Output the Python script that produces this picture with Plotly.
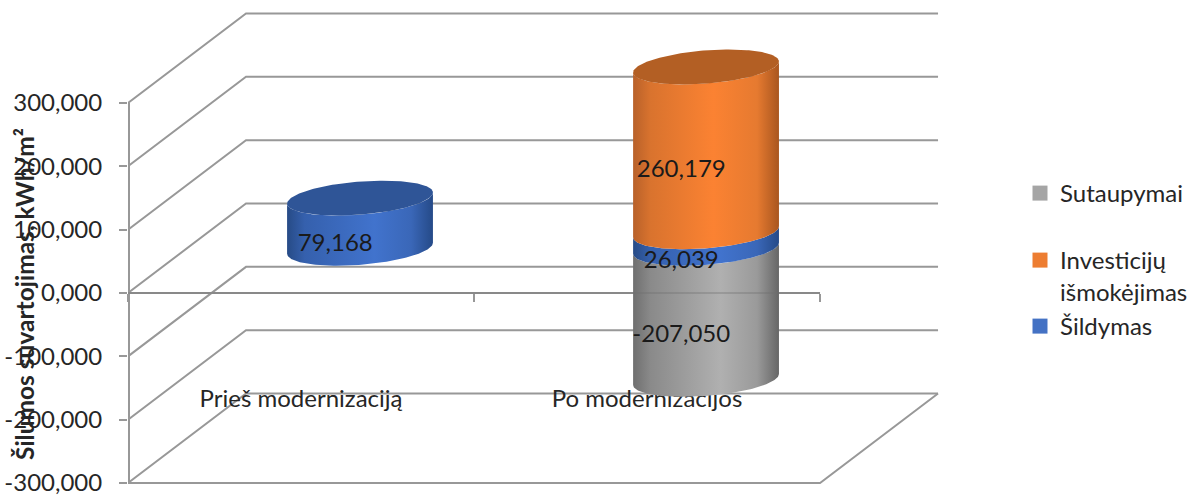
import numpy as np
import plotly.graph_objects as go

categories = ["Prieš modernizaciją", "Po modernizacijos"]
sutaupymai = [0, -207.050]
investiciju = [0, 260.179]
sildymas = [79.168, 26.039]
y_ticks = [300, 200, 100, 0, -100, -200, -300]
y_tick_labels = ["300,000", "200,000", "100,000", "0,000", "-100,000", "-200,000", "-300,000"]
label_text = {"sut": [None, "-207,050"], "inv": [None, "260,179"], "sil": ["79,168", "26,039"]}

# oblique projection of the depth axis, in axis units
DX, DY = 118 / 346, 89.5 / 0.6333
RX, RD = 0.2, 0.195
GRID = "#989898"
FONT = "Lato, Carlito, sans-serif"
TXT = "#262626"


def project(x, v, d):
    return x + np.asarray(d) * DX, v + np.asarray(d) * DY


def ring(xc, v, t):
    return project(xc + RX * np.cos(t), v, 0.5 + RD * np.sin(t))


phi = np.arctan2(RD * DX, RX)
front = np.linspace(phi + np.pi, phi + 2 * np.pi, 90)
whole = np.linspace(0, 2 * np.pi, 180)

fig = go.Figure()

# walls
gx, gy = [], []
for v in y_ticks:
    bx, by = project(2, v, 1)
    ax_, ay_ = project(0, v, 1)
    gx += [0, float(ax_), float(bx), None]
    gy += [v, float(ay_), float(by), None]
fx, fy = project(2, -300, 1)
gx += [0, 2, float(fx), None, 0, 2]
gy += [-300, -300, float(fy), None, 0, 0]
fig.add_trace(go.Scatter(x=gx, y=gy, mode="lines", line=dict(color=GRID, width=2),
                         showlegend=False, hoverinfo="skip"))
# value axis line (half of it falls on the subplot edge)
fig.add_trace(go.Scatter(x=[0, 0], y=[-300, 300], mode="lines", line=dict(color=GRID, width=4),
                         showlegend=False, hoverinfo="skip"))

# category labels lie under the cylinders
fig.add_trace(go.Scatter(x=[0.5, 1.5], y=[-170, -170], mode="text", text=categories,
                         textfont=dict(family=FONT, size=24, color=TXT), cliponaxis=False,
                         showlegend=False, hoverinfo="skip"))


def body(xc, v0, v1, scale):
    tx, ty = ring(xc, v1, front)
    bx, by = ring(xc, v0, front)
    fig.add_trace(go.Scatter(x=np.r_[tx, bx[::-1], tx[0]], y=np.r_[ty, by[::-1], ty[0]], mode="lines",
                             line=dict(width=0), fill="toself", fillgradient=dict(type="horizontal", colorscale=scale),
                             showlegend=False, hoverinfo="skip"))


def cap(xc, v, color):
    tx, ty = ring(xc, v, whole)
    fig.add_trace(go.Scatter(x=tx, y=ty, mode="lines", line=dict(width=0), fill="toself", fillcolor=color,
                             showlegend=False, hoverinfo="skip"))


GREY = [[0, "#6f6f6f"], [0.12, "#8a8a8a"], [0.6, "#b0b0b0"], [0.85, "#9a9a9a"], [1, "#666666"]]
ORANGE = [[0, "#b8612a"], [0.12, "#d9732e"], [0.55, "#fb8232"], [0.85, "#e67a30"], [1, "#a9561f"]]
BLUE = [[0, "#274b86"], [0.12, "#3560ad"], [0.6, "#4173cd"], [0.85, "#3a67b8"], [1, "#254a88"]]

for i, xc in enumerate([0.5, 1.5]):
    if sutaupymai[i]:
        body(xc, sutaupymai[i], 0, GREY)
    body(xc, 0, sildymas[i], BLUE)
    if investiciju[i]:
        body(xc, sildymas[i], sildymas[i] + investiciju[i], ORANGE)
        cap(xc, sildymas[i] + investiciju[i], "#b35f24")
    else:
        cap(xc, sildymas[i], "#2f5597")

# the front zero line shows faintly through the cylinder
fig.add_trace(go.Scatter(x=[0, 2], y=[0, 0], mode="lines", line=dict(color="rgba(110,110,110,0.45)", width=1.6),
                         showlegend=False, hoverinfo="skip"))

# value labels
lx, ly, lt = [], [], []
for i, xc in enumerate([0.5, 1.5]):
    for lo, hi, key in [(sutaupymai[i], 0, "sut"), (0, sildymas[i], "sil"),
                        (sildymas[i], sildymas[i] + investiciju[i], "inv")]:
        if label_text[key][i]:
            px, py = project(xc, (lo + hi) / 2, 0.29)
            lx.append(float(px)); ly.append(float(py) - 5); lt.append(label_text[key][i])
fig.add_trace(go.Scatter(x=lx, y=ly, mode="text", text=lt, textfont=dict(family=FONT, size=24, color="#1a1a1a"),
                         cliponaxis=False, showlegend=False, hoverinfo="skip"))

# legend entries
for name, color, legend in [("Sutaupymai", "#a5a5a5", "legend"),
                            ("Investicijų<br>išmokėjimas", "#ed7d31", "legend2"),
                            ("Šildymas", "#4472c4", "legend3")]:
    fig.add_trace(go.Scatter(x=[None], y=[None], mode="markers", name=name, legend=legend,
                             marker=dict(symbol="square", size=15, color=color)))


def legend_at(top):
    return dict(x=1020 / 1198, xanchor="left", y=1 - top / 496, yanchor="top", valign="top",
                bgcolor="rgba(0,0,0,0)", font=dict(family=FONT, size=24, color=TXT), itemclick=False,
                itemdoubleclick=False)


fig.update_layout(
    width=1198, height=496, margin=dict(l=0, r=0, t=0, b=0, autoexpand=False),
    paper_bgcolor="white", plot_bgcolor="rgba(0,0,0,0)", showlegend=True,
    legend=legend_at(171), legend2=legend_at(238), legend3=legend_at(304),
    xaxis=dict(domain=[128 / 1198, 944.6 / 1198], range=[0, 2.36], anchor="free", position=203 / 496, side="bottom",
               showgrid=False, zeroline=False, tickvals=[0, 1, 2], ticktext=["", "", ""],
               ticks="outside", ticklen=8, tickcolor=GRID, tickwidth=1.5, showline=False),
    yaxis=dict(domain=[9.8 / 496, 485.5 / 496], range=[-305, 446], showgrid=False, zeroline=False,
               tickvals=y_ticks, ticktext=y_tick_labels, ticks="outside", ticklen=8, tickcolor=GRID, tickwidth=1.5,
               ticklabelstandoff=12, ticklabeloverflow="allow",
               tickfont=dict(family=FONT, size=24, color=TXT), showline=False),
    annotations=[dict(text="<b>Šilumos suvartojimas, kWh/m²</b>", xref="paper", yref="paper", x=24 / 1198,
                      y=1 - 294 / 496, textangle=-90, showarrow=False, xanchor="center", yanchor="middle",
                      font=dict(family=FONT, size=24.5, color=TXT))],
)
fig.write_html("out.html", config={"displayModeBar": False}, post_script="document.body.style.margin='0';")
